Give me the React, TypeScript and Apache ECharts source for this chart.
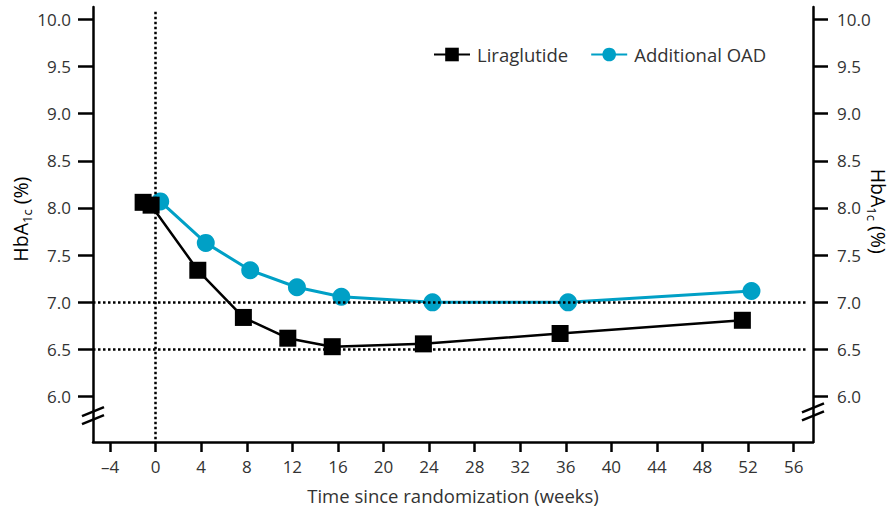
import React, { useEffect, useRef } from "react";
import * as echarts from "echarts";

const xTickValues = [-4, 0, 4, 8, 12, 16, 20, 24, 28, 32, 36, 40, 44, 48, 52, 56];
const yTickValues = [6.0, 6.5, 7.0, 7.5, 8.0, 8.5, 9.0, 9.5, 10.0];
const liraWeeks = [-1.1, -0.4, 3.7, 7.7, 11.6, 15.5, 23.5, 35.5, 51.5];
const liraHbA1c = [8.06, 8.03, 7.34, 6.84, 6.62, 6.53, 6.56, 6.67, 6.81];
const oadWeeks = [0.4, 4.4, 8.3, 12.4, 16.3, 24.3, 36.2, 52.3];
const oadHbA1c = [8.07, 7.63, 7.34, 7.16, 7.06, 7.0, 7.0, 7.12];
const targetLevels = [7.0, 6.5];
const randomizationWeek = 0;
const seriesNames = ["Liraglutide", "Additional OAD"];
const xTitle = "Time since randomization (weeks)";

const FONT = "'Open Sans', 'Noto Sans', sans-serif";
const TXT = "#333";
const BLUE = "#00a0c6";
const X_MIN = -5.5;
const X_MAX = 57.7;
const Y_MIN = 5.52;
const Y_MAX = 10.13;
const BREAK_Y = 5.8;

export default function App() {
  const ref = useRef<HTMLDivElement>(null);
  useEffect(() => {
    if (!ref.current) return;
    const chart = echarts.init(ref.current, null, { renderer: "svg" });
    const tickLabel = {
      fontSize: 17,
      color: TXT,
      fontFamily: FONT,
    };
    const bigText = {
      fontSize: 18.5,
      color: TXT,
      fontFamily: FONT,
    };
    const yAxisBase = (pos: "left" | "right") => ({
      type: "value",
      position: pos,
      min: Y_MIN,
      max: Y_MAX,
      axisLine: { show: true, onZero: false, lineStyle: { color: "#000", width: 2.5 } },
      axisTick: { show: true, length: 15, customValues: yTickValues, lineStyle: { color: "#000", width: 2.5 } },
      axisLabel: {
        ...tickLabel,
        margin: pos === "left" ? 22 : 24,
        customValues: yTickValues,
        formatter: (v: number) => v.toFixed(1),
      },
      splitLine: { show: false },
    });
    chart.setOption({
      animation: false,
      grid: { left: 93, right: 80, top: 7, bottom: 68, containLabel: false },
      legend: {
        left: 428,
        top: 40,
        itemWidth: 36,
        itemHeight: 17,
        itemGap: 22,
        data: seriesNames,
        textStyle: { ...bigText, padding: [0, 0, 0, 2] },
      },
      xAxis: {
        type: "value",
        min: X_MIN,
        max: X_MAX,
        name: xTitle,
        nameLocation: "middle",
        nameGap: 44,
        nameTextStyle: { ...bigText },
        axisLine: { show: true, onZero: false, lineStyle: { color: "#000", width: 2.5 } },
        axisTick: { show: true, length: 10, customValues: xTickValues, lineStyle: { color: "#000", width: 2.5 } },
        axisLabel: {
          ...tickLabel,
          margin: 16,
          customValues: xTickValues,
          formatter: (v: number) => (v < 0 ? "\u2013" + Math.abs(v) : String(v)),
        },
        splitLine: { show: false },
      },
      yAxis: [yAxisBase("left"), yAxisBase("right")],
      series: [
        {
          name: seriesNames[1],
          type: "line",
          z: 2,
          data: oadWeeks.map((w, i) => [w, oadHbA1c[i]]),
          symbol: "circle",
          symbolSize: 18,
          itemStyle: { color: BLUE },
          lineStyle: { color: BLUE, width: 3 },
          markLine: {
            silent: true,
            symbol: "none",
            label: { show: false },
            lineStyle: { color: "#000", type: [2.5, 2.5], width: 2.5 },
            data: [
              ...targetLevels.map((t) => [
                { coord: [X_MIN, t] },
                { coord: [X_MAX - 0.5, t] },
              ]),
              [
                { coord: [randomizationWeek, 10.08] },
                { coord: [randomizationWeek, Y_MIN] },
              ],
            ],
          },
        },
        {
          name: seriesNames[0],
          type: "line",
          z: 3,
          data: liraWeeks.map((w, i) => [w, liraHbA1c[i]]),
          symbol: "rect",
          symbolSize: 17,
          itemStyle: { color: "#000" },
          lineStyle: { color: "#000", width: 2.5 },
        },
      ],
    });

    const pL = chart.convertToPixel({ xAxisIndex: 0, yAxisIndex: 0 }, [X_MIN, BREAK_Y]) as number[];
    const pR = chart.convertToPixel({ xAxisIndex: 0, yAxisIndex: 0 }, [X_MAX, BREAK_Y + 0.04]) as number[];
    const slashes = (cx: number, cy: number) =>
      [-4, 4].map((d) => ({
        type: "line",
        shape: { x1: cx - 11, y1: cy + d + 4.5, x2: cx + 11, y2: cy + d - 4.5 },
        style: { stroke: "#000", lineWidth: 2.5 },
        z: 10,
      }));
    const titleRich = {
      m: { fontSize: 19.5, fontFamily: FONT, color: TXT, lineHeight: 26 },
      s: { fontSize: 13, fontFamily: FONT, color: TXT, lineHeight: 13, verticalAlign: "bottom" },
    };
    const yTitle = "{m|HbA}{s|1c}{m| (%)}";
    const midY = chart.convertToPixel({ yAxisIndex: 0 }, 7.5) as number;
    chart.setOption({
      graphic: [
        ...slashes(pL[0], pL[1]),
        ...slashes(pR[0], pR[1]),
        {
          type: "text",
          x: 20,
          y: midY - 36,
          rotation: Math.PI / 2,
          style: { text: yTitle, rich: titleRich, align: "center", verticalAlign: "middle" },
        },
        {
          type: "text",
          x: 878,
          y: midY - 44,
          rotation: -Math.PI / 2,
          style: { text: yTitle, rich: titleRich, align: "center", verticalAlign: "middle" },
        },
      ],
    });
    return () => chart.dispose();
  }, []);
  return (
    <div
      ref={ref}
      style={{ position: "fixed", left: 0, top: 0, width: 893, height: 510, background: "#fff" }}
    />
  );
}
